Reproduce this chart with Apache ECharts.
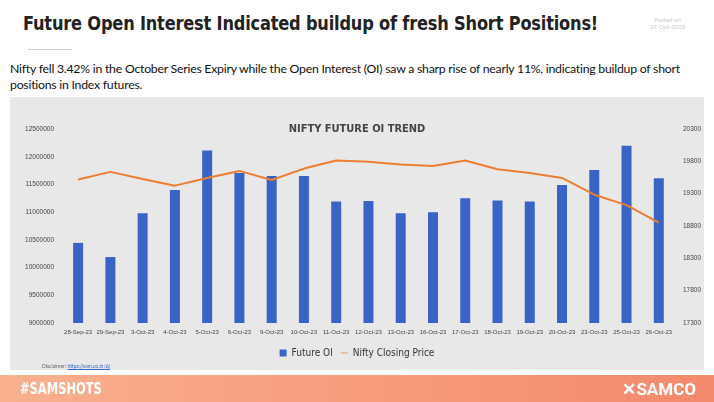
<!DOCTYPE html>
<html>
<head>
<meta charset="utf-8">
<style>
body { margin: 0; width: 714px; height: 402px; background: #fff; font-family: Lato, "Open Sans", sans-serif; position: relative; overflow: hidden; }
#head { position: absolute; left: 23px; top: 11px; font-size: 20px; font-weight: bold; color: #222; font-family: "DejaVu Sans Condensed", sans-serif; letter-spacing: -0.2px; transform: scaleX(0.9); transform-origin: left; }
#posted { position: absolute; left: 650px; top: 16px; font-size: 6px; color: #ccc; text-align: center; }
#rule { position: absolute; left: 28px; top: 49px; width: 44px; height: 1px; background: #ccc; }
#sub { position: absolute; left: 10px; top: 61px; width: 704px; font-size: 12.3px; line-height: 16px; color: #111; letter-spacing: -0.25px; }
#panel { position: absolute; left: 10px; top: 97px; width: 694px; height: 273px; background: #e8e8e8; }
#graphElem { position: absolute; left: 10px; top: 97px; width: 694px; height: 273px; }
#disc { position: absolute; left: 42px; top: 363px; font-size: 5px; color: #666; }
#disc span { color: #3366cc; text-decoration: underline; }
#foot { position: absolute; left: 0; top: 375px; width: 714px; height: 27px; background: linear-gradient(90deg, #f9b08f, #f4896c); }
#tag { position: absolute; left: 20px; top: 380px; color: #fff; font-size: 15px; font-family: "DejaVu Sans Condensed", sans-serif; font-weight: bold; transform: scaleX(0.85); transform-origin: left; }
#brand { position: absolute; right: 18px; top: 379px; color: #fff; font-size: 17px; font-weight: bold; font-family: Roboto, sans-serif; }
</style>
</head>
<body>
<div id="head">Future Open Interest Indicated buildup of fresh Short Positions!</div>
<div id="posted">Posted on<br>27-Oct-2023</div>
<div id="rule"></div>
<div id="sub">Nifty fell 3.42% in the October Series Expiry while the Open Interest (OI) saw a sharp rise of nearly 11%, indicating buildup of short positions in Index futures.</div>
<div id="panel"></div>
<div id="graphElem"></div>
<div id="disc">Disclaimer: <span>https://sam.co.in/6j</span></div>
<div id="foot"></div>
<div id="tag">#SAMSHOTS</div>
<div id="brand">✕SAMCO</div>

<script src="https://cdn.jsdelivr.net/npm/echarts@6/dist/echarts.min.js"></script>
<script>

let dates = ["28-Sep-23", "29-Sep-23", "3-Oct-23", "4-Oct-23", "5-Oct-23", "6-Oct-23", "9-Oct-23", "10-Oct-23", "11-Oct-23", "12-Oct-23", "13-Oct-23", "16-Oct-23", "17-Oct-23", "18-Oct-23", "19-Oct-23", "20-Oct-23", "23-Oct-23", "25-Oct-23", "26-Oct-23"];

let futureOI = [10445000, 10190000, 10980000, 11400000, 12110000, 11705000, 11650000, 11650000, 11190000, 11200000, 10980000, 11000000, 11250000, 11210000, 11190000, 11490000, 11760000, 12200000, 11610000];

let closingPrice = [19518, 19637, 19528, 19424, 19543, 19652, 19512, 19688, 19812, 19792, 19750, 19729, 19812, 19678, 19621, 19543, 19284, 19123, 18854];

// right axis ticks start at 17300, so plot against an offset base
let priceBase = 17300;

let chart = echarts.init(document.getElementById("graphElem"));

chart.setOption({
	animation: false,
	title: {
		text: "NIFTY FUTURE OI TREND",
		left: "center",
		top: 22,
		textStyle: { fontSize: 11, fontWeight: "bold", color: "#444", fontFamily: "DejaVu Sans Condensed" }
	},
	legend: {
		bottom: 7,
		itemWidth: 7,
		itemHeight: 7,
		itemGap: 8,
		textStyle: { fontSize: 10, color: "#333", fontFamily: "DejaVu Sans Condensed" },
		data: [
			{ name: "Future OI", icon: "rect" },
			{ name: "Nifty Closing Price", icon: "path://M0,4h20v2h-20z", itemStyle: { color: "#ed7d31" } }
		]
	},
	grid: { left: 52, right: 26, top: 32, bottom: 47 },
	xAxis: {
		type: "category",
		data: dates,
		axisLine: { show: false },
		axisTick: { show: false },
		axisLabel: { fontSize: 6, color: "#444", interval: 0, margin: 6 }
	},
	yAxis: [
		{
			type: "value",
			min: 9000000,
			max: 12500000,
			interval: 500000,
			splitLine: { show: false },
			axisLabel: { fontSize: 6.5, color: "#444", formatter: v => String(v) }
		},
		{
			type: "value",
			min: 0,
			max: 3000,
			interval: 500,
			splitLine: { show: false },
			axisLabel: { fontSize: 6.5, color: "#444", formatter: v => String(v + priceBase) }
		}
	],
	series: [
		{
			name: "Future OI",
			type: "bar",
			data: futureOI,
			barWidth: 10,
			itemStyle: { color: "#3a63c6" }
		},
		{
			name: "Nifty Closing Price",
			type: "line",
			yAxisIndex: 1,
			data: closingPrice.map(v => v - priceBase),
			symbol: "none",
			lineStyle: { color: "#ed7d31", width: 2 },
			itemStyle: { color: "#ed7d31" }
		}
	]
});

</script>
</body>
</html>
